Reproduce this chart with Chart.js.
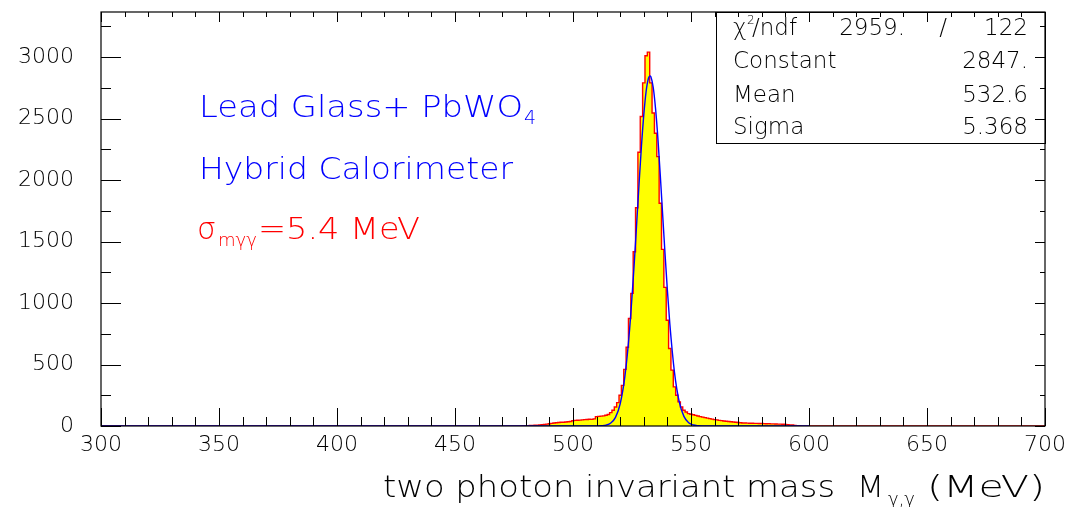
<!DOCTYPE html>
<html>
<head>
<meta charset="utf-8">
<script src="https://cdn.jsdelivr.net/npm/chart.js@4.4.0/dist/chart.umd.min.js"></script>
<style>
  html, body { margin: 0; padding: 0; background: #fff; }
  #wrap { width: 1084px; height: 507px; position: relative; }
</style>
</head>
<body>
<div id="wrap"><canvas id="massChart"></canvas></div>
<script>
// Histogram, 1 MeV bins. counts[0] is the bin starting at binStart, every other bin is empty
const binStart = 476.5;
const counts = [
  0, 1, 1, 2, 2, 3, 4, 4, 6, 7,                                  // 476
  9, 11, 13, 15, 18, 21, 24, 26, 28, 30,                         // 486
  31, 33, 34, 36, 44, 46, 47, 48, 50, 52,                        // 496
  53, 55, 54, 58, 76, 78, 80, 82, 88, 93,                        // 506
  109, 128, 155, 190, 250, 330, 460, 640, 874, 1078,             // 516
  1417, 1775, 2226, 2516, 2790, 3010, 3040, 2790, 2545, 2380,    // 526
  2190, 1811, 1436, 1127, 860, 630, 454, 318, 250, 196,          // 536
  155, 128, 114, 101, 95, 92, 86, 81, 76, 72,                    // 546
  68, 64, 60, 56, 52, 50, 46, 44, 41, 39,                        // 556
  37, 35, 33, 31, 29, 27, 25, 24, 23, 22,                        // 566
  22, 21, 21, 20, 20, 19, 18, 19, 17, 17,                        // 576
  16, 15, 15, 14, 12, 11, 9, 8, 5, 3,                            // 586
  2, 1, 1, 0, 0                                                  // 596
];

// Gaussian fit, points
const fitX = [300, 505, 508, 510, 512, 514, 516, 518, 520, 522,
  524, 526, 527, 528, 529, 530, 531, 532, 532.6, 533,
  534, 535, 536, 537, 538, 539, 540, 541, 543, 545,
  547, 549, 551, 553, 555, 558, 600];
const fitY = [0, 0, 0.05, 0.4, 2, 7, 24, 70, 181, 405,
  789, 1337, 1652, 1972, 2274, 2532, 2723, 2829, 2847, 2839,
  2752, 2576, 2330, 2035, 1716, 1398, 1101, 837, 436, 198,
  78, 27, 8, 2, 0.5, 0, 0];

// Axes
const xMin = 300, xMax = 700, yMax = 3366;
const xTickLabels = [300, 350, 400, 450, 500, 550, 600, 650, 700];
const yTickLabels = [0, 500, 1000, 1500, 2000, 2500, 3000];

// Fit statistics box
const statNames = ['Constant', 'Mean', 'Sigma'];
const statValues = ['2847.', '532.6', '5.368'];
const chi2 = '2959.';
const ndf = '122';

const FONT = '"DejaVu Sans", sans-serif';

// histogram as step points: left edge of each bin, closed at both ends of the axis
const histPoints = [{ x: xMin, y: 0 }];
counts.forEach((c, i) => histPoints.push({ x: binStart + i, y: c }));
histPoints.push({ x: binStart + counts.length, y: 0 });
histPoints.push({ x: xMax, y: 0 });

const fitPoints = fitX.map((v, i) => ({ x: v, y: fitY[i] }));

// draws a string, optionally stretched to a given width; returns drawn width
function text(ctx, str, x, y, size, color, align, width) {
  ctx.font = `200 ${size}px ${FONT}`;
  ctx.fillStyle = color;
  ctx.textAlign = align || 'left';
  ctx.textBaseline = 'alphabetic';
  const m = ctx.measureText(str).width;
  if (!width) {
    ctx.fillText(str, x, y);
    return m;
  }
  ctx.save();
  ctx.translate(x, y);
  ctx.scale(width / m, 1);
  ctx.fillText(str, 0, 0);
  ctx.restore();
  return width;
}

const overlay = {
  id: 'overlay',
  afterDraw(chart) {
    const { ctx, chartArea: a, scales: { x, y } } = chart;
    ctx.save();

    // labels inside the plot
    text(ctx, 'Lead Glass+ PbWO', 199, 117, 30, '#0000ff', 'left', 324);
    text(ctx, '4', 524, 124, 19, '#0000ff');
    text(ctx, 'Hybrid Calorimeter', 199, 179, 30, '#0000ff', 'left', 314);
    text(ctx, 'σ', 197, 239, 30, '#ff0000', 'left', 19);
    text(ctx, 'mγγ', 218, 246, 18, '#ff0000', 'left', 39);
    text(ctx, '=5.4 MeV', 258, 239, 30, '#ff0000', 'left', 162);

    // x axis title
    text(ctx, 'two photon invariant mass', 383, 497, 31, '#000', 'left', 452);
    text(ctx, 'M', 857, 497, 31, '#000', 'left', 27);
    text(ctx, 'γ,γ', 888, 505, 17, '#000', 'left', 27);
    text(ctx, '(MeV)', 927, 497, 31, '#000', 'left', 118);

    // stat box
    const bx = 716, by = a.top, bb = 143;
    ctx.fillStyle = '#fff';
    ctx.fillRect(bx, by, a.right - bx, bb - by);
    ctx.strokeStyle = '#000';
    ctx.lineWidth = 1;
    ctx.strokeRect(bx + 0.5, by + 0.5, a.right - bx, bb - by);
    text(ctx, 'χ', 733, 35, 23, '#000');
    text(ctx, '2', 747, 24, 12, '#000');
    text(ctx, '/ndf', 752, 35, 23, '#000');
    text(ctx, chi2, 905, 35, 23, '#000', 'right');
    text(ctx, '/', 943, 35, 23, '#000', 'center');
    text(ctx, ndf, 1028, 35, 23, '#000', 'right');
    const rowY = [68, 102, 134];
    statNames.forEach((n, i) => {
      text(ctx, n, 733, rowY[i], 23, '#000');
      text(ctx, statValues[i], 1028, rowY[i], 23, '#000', 'right');
    });

    // frame and inward ticks on all four sides
    ctx.strokeStyle = '#000';
    ctx.lineWidth = 1.2;
    ctx.strokeRect(a.left, a.top, a.right - a.left, a.bottom - a.top);
    ctx.lineWidth = 1;
    ctx.beginPath();
    for (let v = xMin; v <= xMax; v += 10) {
      const px = Math.round(x.getPixelForValue(v)) + 0.5;
      const major = v % 50 === 0;
      ctx.moveTo(px, a.bottom); ctx.lineTo(px, a.bottom - (major ? 18 : 9));
      ctx.moveTo(px, a.top); ctx.lineTo(px, a.top + (major ? 10 : 5));
    }
    for (let v = 0; v <= yMax; v += 250) {
      const py = Math.round(y.getPixelForValue(v)) + 0.5;
      const major = v % 500 === 0;
      ctx.moveTo(a.left, py); ctx.lineTo(a.left + (major ? 20 : 10), py);
      ctx.moveTo(a.right, py); ctx.lineTo(a.right - (major ? 10 : 5), py);
    }
    ctx.stroke();
    ctx.restore();
  }
};

const ctx = document.getElementById('massChart').getContext('2d');
const massChart = new Chart(ctx, {
  type: 'line',
  data: {
    datasets: [
      {
        label: 'fit',
        data: fitPoints,
        borderColor: '#0000ff',
        borderWidth: 1.4,
        pointRadius: 0,
        cubicInterpolationMode: 'monotone',
        fill: false,
        order: 0
      },
      {
        label: 'histogram',
        data: histPoints,
        stepped: 'after',
        borderColor: '#ff0000',
        borderWidth: 1.4,
        backgroundColor: '#ffff00',
        pointRadius: 0,
        fill: 'origin',
        order: 1
      }
    ]
  },
  options: {
    responsive: true,
    maintainAspectRatio: false,
    animation: false,
    layout: { autoPadding: false, padding: { left: 0, top: 12, right: 39, bottom: 0 } },
    plugins: {
      legend: { display: false },
      tooltip: { enabled: false }
    },
    scales: {
      x: {
        type: 'linear',
        min: xMin,
        max: xMax,
        afterBuildTicks: s => { s.ticks = xTickLabels.map(v => ({ value: v })); },
        afterFit: s => { s.height = 81; s.paddingLeft = 0; s.paddingRight = 0; },
        grid: { display: false, drawTicks: false },
        border: { display: false },
        ticks: {
          padding: 6, maxRotation: 0, color: '#000',
          callback: v => String(v),
          font: { family: FONT, size: 22, weight: 200 }
        }
      },
      y: {
        min: 0,
        max: yMax,
        afterBuildTicks: s => { s.ticks = yTickLabels.map(v => ({ value: v })); },
        afterFit: s => { s.width = 101; s.paddingTop = 0; s.paddingBottom = 0; },
        grid: { display: false, drawTicks: false },
        border: { display: false },
        ticks: {
          padding: 27, color: '#000',
          callback: v => String(v),
          font: { family: FONT, size: 22, weight: 200 }
        }
      }
    }
  },
  plugins: [overlay]
});
</script>
</body>
</html>
